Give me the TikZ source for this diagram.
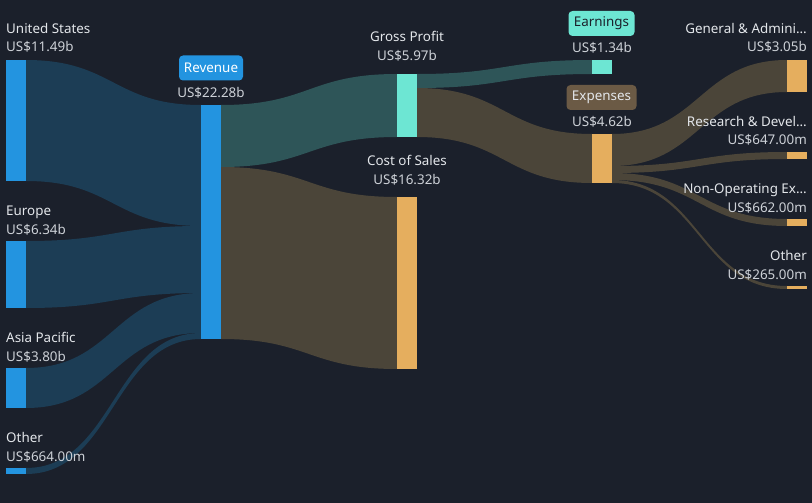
\documentclass[tikz,border=0pt]{standalone}
\usepackage{fontspec}
\setmainfont{Noto Sans}
\definecolor{bg}{HTML}{1B202B}
\definecolor{nblue}{HTML}{2394E0}
\definecolor{nteal}{HTML}{6DE6D3}
\definecolor{norange}{HTML}{E5AE5E}
\definecolor{fblue}{HTML}{1C3D55}
\definecolor{fteal}{HTML}{2E5558}
\definecolor{fbrown}{HTML}{4B4539}
\definecolor{bbrown}{HTML}{6B5A45}
\definecolor{txt}{HTML}{E3E6EA}
\definecolor{txtv}{HTML}{CDD1D7}
\newcommand\flowband[7]{\fill[#7] (#1,#2) .. controls ({(#1+#4)/2},#2) and ({(#1+#4)/2},#5) .. (#4,#5) -- (#4,#6) .. controls ({(#1+#4)/2},#6) and ({(#1+#4)/2},#3) .. (#1,#3) -- cycle;}
\tikzset{
  bar/.style={draw=none, inner sep=0pt, minimum width=20pt, anchor=north west},
  lbl/.style={inner sep=0pt, text=txt, font=\fontsize{13.4}{15}\selectfont},
  val/.style={inner sep=0pt, text=txtv, font=\fontsize{13.4}{15}\selectfont},
  tag/.style={rounded corners=4pt, inner sep=0pt, minimum height=25pt, font=\fontsize{13.4}{15}\selectfont}
}
\begin{document}
\begin{tikzpicture}[x=1pt,y=-1pt]
\useasboundingbox[fill=bg] (0,0) rectangle (812,503);
% flows
\flowband{26}{60}{181}{201}{105}{226}{fblue}
\flowband{26}{241}{308}{201}{226}{293}{fblue}
\flowband{26}{368}{408}{201}{293}{333}{fblue}
\flowband{26}{468}{474}{201}{333}{339}{fblue}
\flowband{221}{105}{167}{397}{74}{137}{fteal}
\flowband{221}{167}{339}{397}{197}{369}{fbrown}
\flowband{417}{74}{88}{592}{60}{74}{fteal}
\flowband{417}{88}{137}{592}{134}{183}{fbrown}
\flowband{612}{134}{166}{787}{60}{92}{fbrown}
\flowband{612}{166}{173}{787}{152}{159}{fbrown}
\flowband{612}{173}{180}{787}{219}{226}{fbrown}
\flowband{612}{180}{183}{787}{286}{289}{fbrown}
% nodes
\node[bar, fill=nblue, minimum height=121pt] (us) at (6,60) {};
\node[bar, fill=nblue, minimum height=67pt] (eu) at (6,241) {};
\node[bar, fill=nblue, minimum height=40pt] (ap) at (6,368) {};
\node[bar, fill=nblue, minimum height=6pt] (ot) at (6,468) {};
\node[bar, fill=nblue, minimum height=234pt] (rev) at (201,105) {};
\node[bar, fill=nteal, minimum height=63pt] (gp) at (397,74) {};
\node[bar, fill=norange, minimum height=172pt] (cos) at (397,197) {};
\node[bar, fill=nteal, minimum height=14pt] (earn) at (592,60) {};
\node[bar, fill=norange, minimum height=49pt] (exp) at (592,134) {};
\node[bar, fill=norange, minimum height=32pt] (ga) at (787,60) {};
\node[bar, fill=norange, minimum height=7pt] (rd) at (787,152) {};
\node[bar, fill=norange, minimum height=7pt] (no) at (787,219) {};
\node[bar, fill=norange, minimum height=3pt] (oe) at (787,286) {};
% left labels
\node[lbl, anchor=base west] (usl) at (6,34) {United States};
\node[val, anchor=base west] (usv) at (6,52) {US\$11.49b};
\node[lbl, anchor=base west] (eul) at (6,215) {Europe};
\node[val, anchor=base west] (euv) at (6,234) {US\$6.34b};
\node[lbl, anchor=base west] (apl) at (6,342) {Asia Pacific};
\node[val, anchor=base west] (apv) at (6,361) {US\$3.80b};
\node[lbl, anchor=base west] (otl) at (6,442) {Other};
\node[val, anchor=base west] (otv) at (6,461) {US\$664.00m};
% middle labels
\node[tag, fill=nblue, text=white, minimum width=64pt] (revt) at (211,68) {Revenue};
\node[val, anchor=base] (revv) at (211,98) {US\$22.28b};
\node[lbl, anchor=base] (gpl) at (407,42) {Gross Profit};
\node[val, anchor=base] (gpv) at (407,61) {US\$5.97b};
\node[lbl, anchor=base] (cosl) at (407,165) {Cost of Sales};
\node[val, anchor=base] (cosv) at (407,184) {US\$16.32b};
\node[tag, fill=nteal, text=bg, minimum width=66pt] (earnt) at (601.5,23.5) {Earnings};
\node[val, anchor=base] (earnv) at (602,53) {US\$1.34b};
\node[tag, fill=bbrown, text=txt, minimum width=70pt] (expt) at (601.5,97.5) {Expenses};
\node[val, anchor=base] (expv) at (602,127) {US\$4.62b};
% right labels
\node[lbl, anchor=base east] (gal) at (807,34) {General \& Admini...};
\node[val, anchor=base east] (gav) at (807,52) {US\$3.05b};
\node[lbl, anchor=base east] (rdl) at (807,126) {Research \& Devel...};
\node[val, anchor=base east] (rdv) at (807,144) {US\$647.00m};
\node[lbl, anchor=base east] (nol) at (807,193) {Non-Operating Ex...};
\node[val, anchor=base east] (nov) at (807,212) {US\$662.00m};
\node[lbl, anchor=base east] (oel) at (807,260) {Other};
\node[val, anchor=base east] (oev) at (807,279) {US\$265.00m};
\end{tikzpicture}
\end{document}
